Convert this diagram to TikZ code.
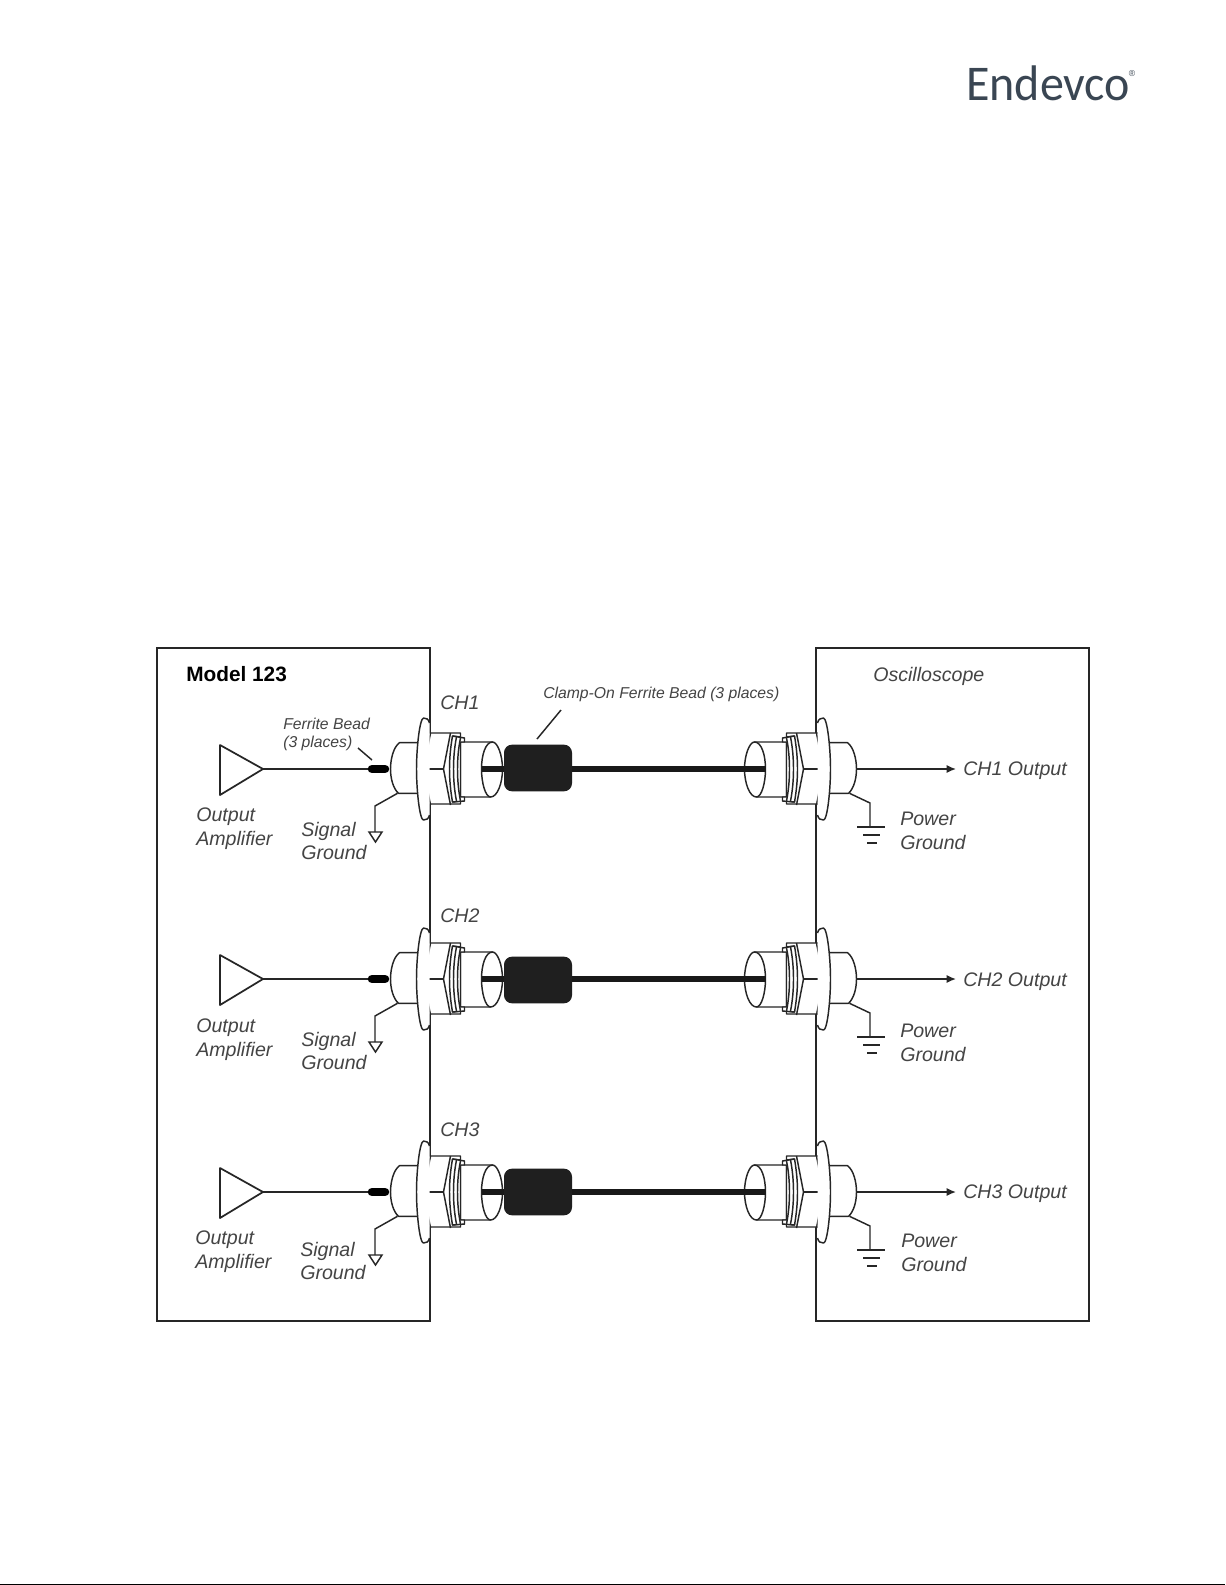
\documentclass[tikz,border=0pt]{standalone}
\usepackage{fontspec}
\setmainfont{Liberation Sans}
\newfontfamily\logofont{Carlito}
\usetikzlibrary{arrows.meta}
\definecolor{inkc}{HTML}{262626}
\definecolor{labelc}{HTML}{444444}
\definecolor{logoc}{HTML}{3A4653}
\tikzset{
  x=0.75pt,y=-0.75pt,
  boxframe/.style={draw=inkc,line width=1.6pt,fill=none,inner sep=0,outer sep=0,minimum width=205pt,minimum height=504.5pt},
  jackline/.style={draw=inkc,line width=1.1pt,line join=round,fill=white},
  jackplain/.style={draw=inkc,line width=1.1pt,line join=round},
  wire/.style={draw=inkc,line width=1.3pt},
  fat/.style={draw=black!90,line width=4.9pt},
  thin/.style={draw=inkc,line width=1.1pt},
  lab/.style={anchor=west,inner sep=0,text=labelc,yshift=-3pt,font=\fontsize{14.7pt}{16pt}\selectfont\itshape,text height=.72em,text depth=.2em},
  smalllab/.style={lab,yshift=1pt,font=\fontsize{11.8pt}{13pt}\selectfont\itshape},
  pics/jack/.style={code={
    % dome
    \path[jackline] (-13,-26.3) -- (-31,-26.3) .. controls (-37,-22) and (-40,-10) .. (-40,0)
       .. controls (-40,10) and (-37,20) .. (-32,24.3) -- (-13,24.3);
    % tube body
    \path[jackline] (30,-27) -- (62,-27) -- (60,28) -- (30,28) -- cycle;
    \path[jackline] (62,-27) .. controls (67,-27) and (72,-14) .. (72,0) .. controls (72,14) and (67,28) .. (60,28)
        .. controls (55,28) and (51,14) .. (51,0) .. controls (51,-14) and (55,-27) .. (62,-27);
    % nut
    \path[jackline] (-6,-36) -- (30,-36) -- (30,-32) -- (22,-33) -- (22,33) -- (30,32) -- (30,35) -- (-6,35) -- cycle;
    \path[jackplain] (0,-36) -- (-7,0) -- (0,36);
    \path[jackplain] (20,-36) -- (13,0) -- (20,36);
    \path[jackplain] (-7,0) -- (13,0);
    % washers
    \path[jackline] (22,-33) -- (34,-31) -- (34,-27) -- (30,-27) -- (30,28) -- (34,28) -- (34,32) -- (22,33)
        .. controls (18,10) and (18,-10) .. (22,-33);
    \path[jackplain] (26,-32) .. controls (22,-12) and (22,12) .. (26,32);
    \path[jackplain] (30,-31) .. controls (26,-12) and (26,12) .. (30,32);
    % flange
    \path[jackline] (-1,-46) .. controls (-2,-50) and (-4,-51) .. (-7,-51)
       .. controls (-11,-50) and (-14,-20) .. (-14,0)
       .. controls (-14,20) and (-11,51) .. (-7,51)
       .. controls (-4,51) and (-2,50) .. (-1,46);
    \coordinate (-domelow) at (-33,24.3);
    \coordinate (-domeleft) at (-40,0);
    \coordinate (-tubeend) at (51,0);
  }}
}
\begin{document}
\begin{tikzpicture}
\useasboundingbox (0,0) rectangle (1225,1585);
\fill[white] (0,0) rectangle (1225,1585);

% logo
\node[anchor=base west,inner sep=0,text=logoc,xscale=.96] (logo) at (966,100) {\logofont\fontsize{37.5pt}{40pt}\selectfont Endevco};
\node[anchor=center,inner sep=0,text=logoc] (reg) at (1132,74) {\fontsize{6.5pt}{7pt}\selectfont ®};

% frames
\node[boxframe,anchor=north west] (model) at (157,648) {};
\node[boxframe,anchor=north west] (scope) at (816,648) {};

\node[lab,anchor=west,font=\fontsize{15.6pt}{17pt}\selectfont\bfseries,text=black] (modeltitle) at (186,674) {Model 123};
\node[lab] (scopetitle) at (873,674) {Oscilloscope};
\node[smalllab] (clamptext) at (543,692) {Clamp-On Ferrite Bead (3 places)};
\node[smalllab] (beadtexta) at (283,723) {Ferrite Bead};
\node[smalllab] (beadtextb) at (283,741) {(3 places)};

\foreach \n/\yy/\lx/\ly/\sx/\sy/\px/\py/\chy/\cly/\oy in {
  1/769/196/0/301/0/900/0/702/-1/-1,
  2/979/196/1/301/0/900/2/915/1/0,
  3/1192/195/0/300/-3/901/-1/1129/0/-1}{
  % left panel connector and right panel connector
  \pic (jl\n) at (430.5,\yy) {jack};
  \pic[xscale=-1] (jr\n) at (816.5,\yy) {jack};
  % amplifier
  \coordinate (ampa\n) at (220,\yy-24);
  \coordinate (ampb\n) at (220,\yy+26);
  \coordinate (amptip\n) at (263,\yy);
  \draw[jackplain,line width=1.3pt] (ampa\n) -- (amptip\n) -- (ampb\n) -- cycle;
  \coordinate (beadl\n) at (372,\yy);
  \coordinate (beadr\n) at (385,\yy);
  \draw[wire] (amptip\n) -- (beadl\n);
  \draw[draw=black,line width=6.4pt,line cap=round] (beadl\n) -- (beadr\n);
  % signal ground
  \coordinate (sgk\n) at (375,\yy+37);
  \coordinate (sge\n) at (375,\yy+63);
  \draw[thin] (jl\n-domelow) -- (sgk\n) -- (sge\n);
  \draw[thin] (369,\yy+63) -- (382,\yy+63) -- (375.5,\yy+73) -- cycle;
  % cable and clamp
  \node[fill=black!88,rounded corners=6pt,inner sep=0,minimum width=51pt,minimum height=35pt] (clamp\n) at (538,\yy+\cly) {};
  \draw[fat] (jl\n-tubeend) -- (clamp\n.west |- jl\n-tubeend);
  \draw[fat] (clamp\n.east |- jr\n-tubeend) -- (jr\n-tubeend);
  % output
  \coordinate (outtip\n) at (956,\yy);
  \draw[wire,line width=1.1pt,-{Latex[length=7pt,width=6pt]}] (jr\n-domeleft) -- (outtip\n);
  % power ground
  \coordinate (pgk\n) at (870,\yy+34);
  \coordinate (pge\n) at (870,\yy+58);
  \draw[thin] (jr\n-domelow) -- (pgk\n) -- (pge\n);
  \draw[thin,line width=1.2pt] (857,\yy+58) -- (885,\yy+58) (863,\yy+66) -- (880,\yy+66) (867,\yy+74) -- (877,\yy+74);
  % labels
  \node[lab] (out\n) at (\lx,\yy+45+\ly) {Output};
  \node[lab] (amp\n) at (\lx,\yy+69+\ly) {Amplifier};
  \node[lab] (sig\n) at (\sx,\yy+60+\sy) {Signal};
  \node[lab] (gnd\n) at (\sx,\yy+83+\sy) {Ground};
  \node[lab] (pow\n) at (\px,\yy+49+\py) {Power};
  \node[lab] (pgn\n) at (\px,\yy+73+\py) {Ground};
  \node[lab] (ch\n) at (440,\chy) {CH\n};
  \node[lab] (cho\n) at (963,\yy+\oy) {CH\n\ Output};
}
% leaders
\coordinate (lda) at (358,748);
\coordinate (ldb) at (372,760);
\draw[thin] (lda) -- (ldb);
\coordinate (ldc) at (561,710);
\coordinate (ldd) at (537,739);
\draw[thin] (ldc) -- (ldd);
\coordinate (bota) at (0,1584.5);
\coordinate (botb) at (1225,1584.5);
\draw[black,line width=.6pt] (bota) -- (botb);
\end{tikzpicture}
\end{document}
